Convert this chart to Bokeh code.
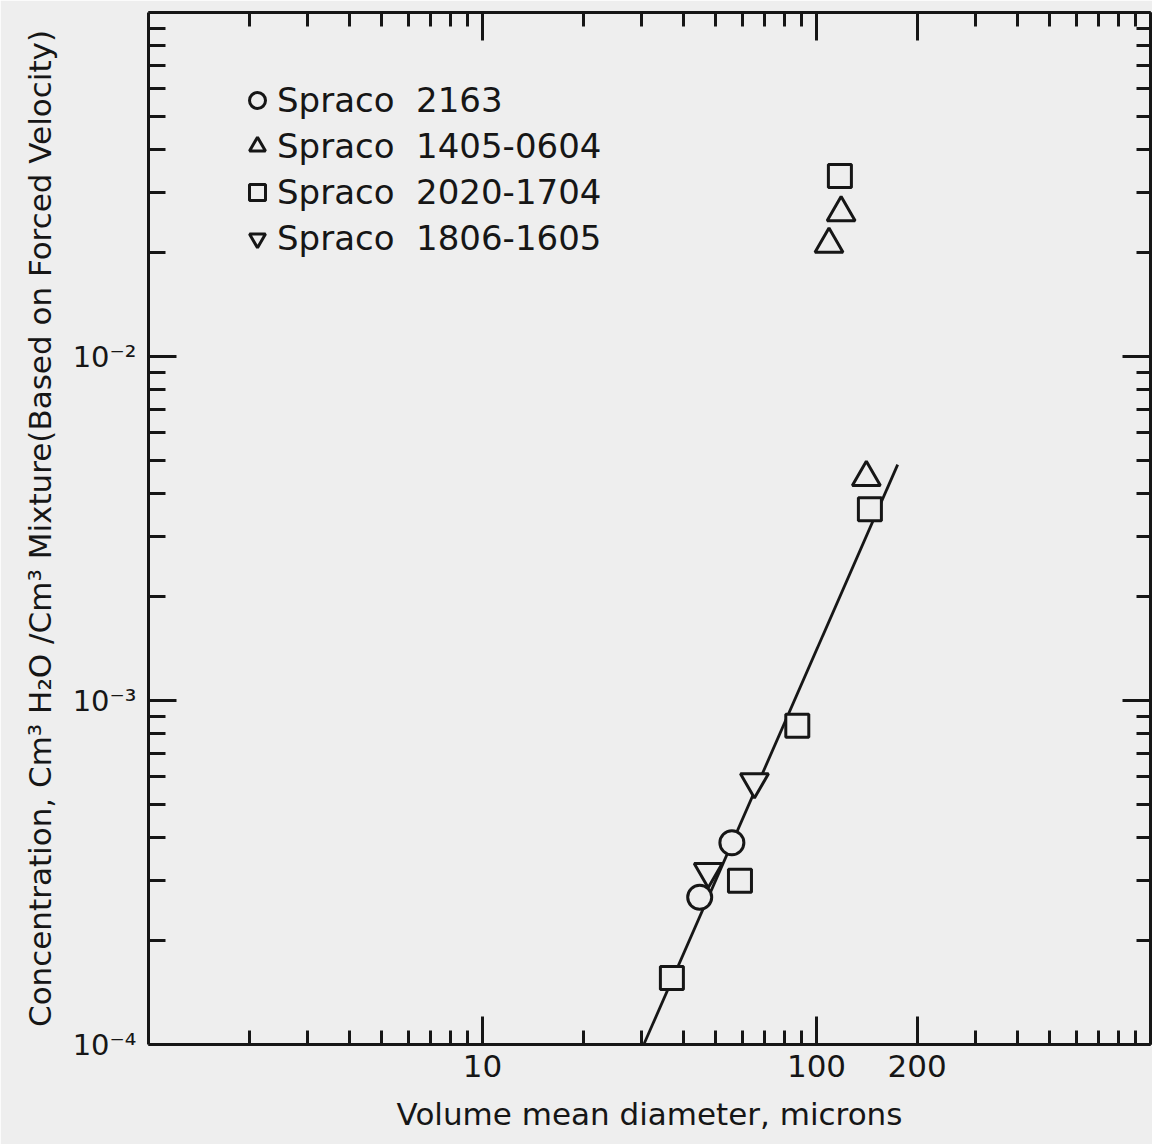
from bokeh.plotting import figure
from bokeh.models import FixedTicker, LogAxis, Legend, LegendItem
from bokeh.embed import file_html
from bokeh.resources import INLINE

# ---- data ----
circle_x = [44.7, 55.8]
circle_y = [2.68e-4, 3.86e-4]
tri_x = [109.0, 118.5, 141.0]
tri_y = [0.0212, 0.0262, 4.45e-3]
sq_x = [117.5, 144.5, 87.6, 59.0, 36.9]
sq_y = [0.0335, 3.60e-3, 8.45e-4, 2.99e-4, 1.56e-4]
itri_x = [47.4, 65.2]
itri_y = [3.18e-4, 5.80e-4]
fit_x = [30.4, 175.0]
fit_y = [1.0e-4, 4.85e-3]
series_labels = ["Spraco  2163", "Spraco  1405-0604", "Spraco  2020-1704", "Spraco  1806-1605"]
x_major = [10, 100, 200]
x_major_labels = ["10", "100", "200"]
y_major = [1e-4, 1e-3, 1e-2, 1e-1]
y_major_labels = ["10\u207b\u2074", "10\u207b\u00b3", "10\u207b\u00b2", ""]

FONT = "DejaVu Sans"
INK = "#161616"
BG = "#eeeeee"

x_minor = [m * 10 ** e for e in range(0, 3) for m in range(2, 10) if m * 10 ** e not in x_major] + [1000]
y_minor = [m * 10.0 ** e for e in (-4, -3, -2) for m in range(2, 10)]

p = figure(width=1152, height=1144, x_axis_type="log", y_axis_type="log",
           x_range=(1, 1000), y_range=(1e-4, 1e-1),
           output_backend="svg", toolbar_location=None,
           min_border_left=148, min_border_right=2, min_border_top=12, min_border_bottom=100,
           background_fill_color=BG, border_fill_color=BG)
p.grid.visible = False
p.outline_line_color = None


def style(ax, ticks, minor, labels, show):
    ax.ticker = FixedTicker(ticks=ticks, minor_ticks=minor)
    ax.axis_line_width = 3
    ax.axis_line_color = INK
    ax.major_tick_in = 28
    ax.major_tick_out = 0
    ax.minor_tick_in = 14
    ax.minor_tick_out = 0
    ax.major_tick_line_width = 3
    ax.minor_tick_line_width = 3
    ax.major_tick_line_color = INK
    ax.minor_tick_line_color = INK
    if show:
        ax.major_label_overrides = {t: l for t, l in zip(ticks, labels)}
        ax.major_label_text_font = FONT
        ax.major_label_text_font_size = "31px"
        ax.major_label_text_color = INK
        ax.major_label_standoff = 10
    else:
        ax.major_label_overrides = {t: "" for t in ticks}
        ax.major_label_text_font_size = "1px"
        ax.major_label_standoff = 0


xb = p.xaxis[0]
style(xb, x_major, x_minor, x_major_labels, True)
xb.axis_label = "Volume mean diameter, microns"
xb.axis_label_text_font = FONT
xb.axis_label_text_font_size = "31px"
xb.axis_label_text_font_style = "normal"
xb.axis_label_text_color = INK
xb.axis_label_standoff = 16

yl = p.yaxis[0]
style(yl, y_major, y_minor, y_major_labels, True)
yl.minor_tick_in = 17
yl.major_label_text_font_size = "29px"
yl.major_label_standoff = 12
yl.axis_label = "Concentration, Cm\u00b3 H\u2082O /Cm\u00b3 Mixture(Based on Forced Velocity)"
yl.axis_label_text_font = FONT
yl.axis_label_text_font_size = "31px"
yl.axis_label_text_font_style = "normal"
yl.axis_label_text_color = INK
yl.axis_label_standoff = 12

xt = LogAxis()
style(xt, x_major, x_minor, x_major_labels, False)
p.add_layout(xt, "above")
yr = LogAxis()
style(yr, y_major, y_minor, y_major_labels, False)
p.add_layout(yr, "right")

p.line(fit_x, fit_y, line_color=INK, line_width=2.8)

mk = dict(line_color=INK, line_width=3, fill_color=BG)
r_c = p.scatter(circle_x, circle_y, marker="circle", size=24, **mk)
r_t = p.scatter(tri_x, tri_y, marker="triangle", size=28, **mk)
r_s = p.scatter(sq_x, sq_y, marker="square", size=23, **mk)
r_i = p.scatter(itri_x, itri_y, marker="inverted_triangle", size=28, **mk)

legend = Legend(items=[LegendItem(label=series_labels[0], renderers=[r_c]),
                       LegendItem(label=series_labels[1], renderers=[r_t]),
                       LegendItem(label=series_labels[2], renderers=[r_s]),
                       LegendItem(label=series_labels[3], renderers=[r_i])],
                location=(89, 783), padding=0, margin=0, spacing=0,
                glyph_width=40, glyph_height=46, label_height=46, label_standoff=0,
                label_text_font=FONT, label_text_font_size="34px", label_text_color=INK,
                background_fill_alpha=0, border_line_color=None)
p.add_layout(legend)

open("out.html", "w").write(file_html(p, INLINE))
